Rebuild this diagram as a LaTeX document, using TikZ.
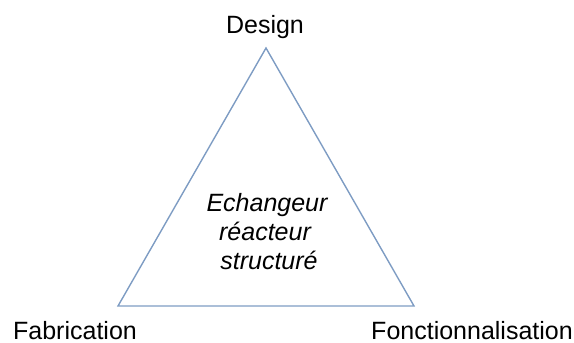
\documentclass[tikz,border=0pt]{standalone}
\usepackage{fontspec}
\setmainfont{Liberation Sans}
\definecolor{triline}{HTML}{7E9CC3}
\begin{document}
\begin{tikzpicture}[x=1pt,y=-1pt,
  lbl/.style={font=\fontsize{25}{29}\selectfont, inner sep=0pt, anchor=base, text=black},
  ctr/.style={font=\fontsize{25}{29}\selectfont\itshape, inner sep=0pt, anchor=base, text=black},
  edge/.style={draw=triline, line width=1.4pt, line join=miter}]
\useasboundingbox (0,0) rectangle (574,343);
\coordinate (top) at (266,48);
\coordinate (bl) at (118,306);
\coordinate (br) at (414,306);
\draw[edge] (top) -- (bl) -- (br) -- cycle;
\node[lbl] (design) at (265,33) {Design};
\node[lbl] (fab) at (75,339) {Fabrication};
\node[lbl] (fonc) at (472,339) {Fonctionnalisation};
\node[ctr] (c1) at (267,211) {Echangeur};
\node[ctr] (c2) at (265,240) {réacteur};
\node[ctr] (c3) at (269,269) {structuré};
\end{tikzpicture}
\end{document}
